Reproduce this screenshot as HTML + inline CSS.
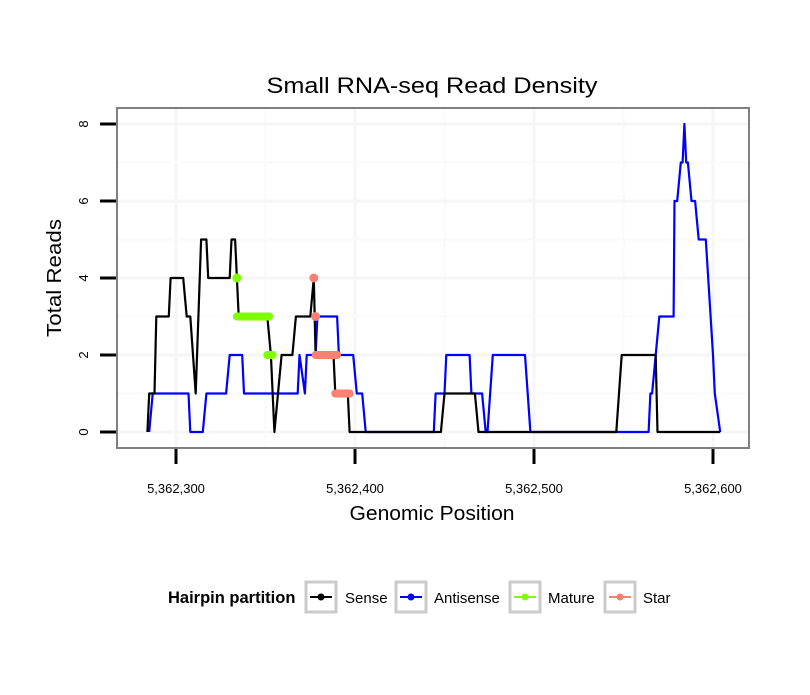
<!DOCTYPE html>
<html><head><meta charset="utf-8"><style>
body{margin:0;background:#fff;}
svg text{font-family:"Liberation Sans",sans-serif;}
</style></head><body>
<svg id="chart" width="810" height="690" viewBox="0 0 810 690">
<rect x="0" y="0" width="810" height="690" fill="#fff"/>
<text x="432" y="93" font-size="22" text-anchor="middle" textLength="331" lengthAdjust="spacingAndGlyphs">Small RNA-seq Read Density</text>
<g id="grid"></g>
<g id="series"></g>
<rect x="117" y="108" width="632" height="340" fill="none" stroke="#7f7f7f" stroke-width="2"/>
<g id="axes"></g>
<text x="432" y="520" font-size="20" text-anchor="middle" textLength="165" lengthAdjust="spacingAndGlyphs">Genomic Position</text>
<text transform="translate(61,278) rotate(-90)" font-size="20" text-anchor="middle" textLength="118" lengthAdjust="spacingAndGlyphs">Total Reads</text>
<g>
<text x="168" y="603" font-size="16.5" font-weight="bold">Hairpin partition</text>
<g><rect x="306" y="582" width="30" height="30" fill="#fff" stroke="#cbcbcb" stroke-width="3"/><line x1="310" y1="597" x2="332" y2="597" stroke="#000" stroke-width="2"/><circle cx="321" cy="597" r="3.5" fill="#000"/><text x="345" y="603" font-size="15">Sense</text></g>
<g><rect x="396" y="582" width="30" height="30" fill="#fff" stroke="#cbcbcb" stroke-width="3"/><line x1="400" y1="597" x2="422" y2="597" stroke="#0000ff" stroke-width="2"/><circle cx="411" cy="597" r="3.5" fill="#0000ff"/><text x="434" y="603" font-size="15">Antisense</text></g>
<g><rect x="510" y="582" width="30" height="30" fill="#fff" stroke="#cbcbcb" stroke-width="3"/><line x1="514" y1="597" x2="536" y2="597" stroke="#7fff00" stroke-width="2"/><circle cx="525" cy="597" r="3.5" fill="#7fff00"/><text x="548" y="603" font-size="15">Mature</text></g>
<g><rect x="605" y="582" width="30" height="30" fill="#fff" stroke="#cbcbcb" stroke-width="3"/><line x1="609" y1="597" x2="631" y2="597" stroke="#fa8072" stroke-width="2"/><circle cx="620" cy="597" r="3.5" fill="#fa8072"/><text x="643" y="603" font-size="15">Star</text></g>
</g>
</svg>
<script>
const BASE = 5362300;
const xTicks = [5362300, 5362400, 5362500, 5362600];
const xTickLabels = ["5,362,300", "5,362,400", "5,362,500", "5,362,600"];
const yTicks = [0, 2, 4, 6, 8];
const senseX = [-16,-15,-12,-11,-4,-3,4,6,8,11,14,17,18,30,31,33,34,35,51,53,55,59,65,67,75,77,77.5,78,88,89,96,97,148,150,167,169,246,249,268,269,304];
const senseY = [0,1,1,3,3,4,4,3,3,1,5,5,4,4,5,5,4,3,3,2,0,2,2,3,3,4,3,2,2,1,1,0,0,1,1,0,0,2,2,0,0];
const antiX = [-15,-13,7,8,15,17,28,30,37,38,68,69,72,73,78,79,90,91,99,101,104,106,144,145,150,151,164,165,171,173,174,177,195,198,264,265,266,270,278,278.5,280,282,283,284,285,286,288,290,292,296,300,301,304];
const antiY = [0,1,1,0,0,1,1,2,2,1,1,2,1,2,2,3,3,2,2,1,1,0,0,1,1,2,2,1,1,0,0,2,2,0,0,1,1,3,3,6,6,7,7,8,7,7,6,6,5,5,2,1,0];
const matureDotsX = [34]; const matureDotsY = [4];
const matureSegX1 = [34, 51]; const matureSegX2 = [52, 54]; const matureSegY = [3, 2];
const starDotsX = [77, 78]; const starDotsY = [4, 3];
const starSegX1 = [78, 89]; const starSegX2 = [90, 97]; const starSegY = [2, 1];

const NS = "http://www.w3.org/2000/svg";
function xs(v){ return 176 + (v - BASE) * 1.79; }
function xo(o){ return xs(BASE + o); }
function ys(v){ return 432 - v * 38.5; }
function mk(tag, attrs, parent){ const e=document.createElementNS(NS,tag); for(const k in attrs) e.setAttribute(k, attrs[k]); parent.appendChild(e); return e; }

const grid = document.getElementById('grid');
const series = document.getElementById('series');
const axes = document.getElementById('axes');
for (let i=0;i<xTicks.length;i++){
  const x = xs(xTicks[i]);
  const g = mk('line',{x1:x,x2:x,y1:109,y2:447,stroke:'#f6f6f6','stroke-width':3},grid);
  
  
  const mx = xs(xTicks[i]+50);
  if (mx < 748){ const m = mk('line',{x1:mx,x2:mx,y1:109,y2:447,stroke:'#fafafa','stroke-width':2},grid);
  
   }
  const t = mk('line',{x1:x,x2:x,y1:449,y2:464,stroke:'#000','stroke-width':3},axes);
  
  
  const l = mk('text',{x:x,y:493,'font-size':13,'text-anchor':'middle'},axes);
  l.textContent = xTickLabels[i];
  
  
}
for (let i=0;i<yTicks.length;i++){
  const y = ys(yTicks[i]);
  const g = mk('line',{x1:118,x2:748,y1:y,y2:y,stroke:'#f6f6f6','stroke-width':3},grid);
  
  
  if (i < yTicks.length-1){ const my = ys(yTicks[i]+1);
  const m = mk('line',{x1:118,x2:748,y1:my,y2:my,stroke:'#fafafa','stroke-width':2},grid);
  
   }
  const t = mk('line',{x1:100,x2:116,y1:y,y2:y,stroke:'#000','stroke-width':3},axes);
  
  
  const l = mk('text',{transform:`translate(88,${y}) rotate(-90)`,'font-size':13,'text-anchor':'middle'},axes);
  l.textContent = String(yTicks[i]);
  
  
}
function line(X,Y,color,name){
  const pts = X.map((x,i)=>xo(x).toFixed(1)+','+ys(Y[i]).toFixed(1)).join(' ');
  const p = mk('polyline',{points:pts,fill:'none',stroke:color,'stroke-width':2.2,'stroke-linejoin':'round'},series);
  
  
}
line(antiX, antiY, '#0000ff', 'antisense-line');
line(senseX, senseY, '#000000', 'sense-line');
function segs(X1,X2,Y,color,name){
  for(let i=0;i<Y.length;i++){
    const s = mk('line',{x1:xo(X1[i]),x2:xo(X2[i]),y1:ys(Y[i]),y2:ys(Y[i]),stroke:color,'stroke-width':8,'stroke-linecap':'round'},series);
    
    
  }
}
function dots(X,Y,color,name){
  for(let i=0;i<X.length;i++){
    const c = mk('circle',{cx:xo(X[i]),cy:ys(Y[i]),r:4.5,fill:color},series);
    
    
  }
}
segs(matureSegX1, matureSegX2, matureSegY, '#7fff00', 'mature-segment');
dots(matureDotsX, matureDotsY, '#7fff00', 'mature-point');
segs(starSegX1, starSegX2, starSegY, '#fa8072', 'star-segment');
dots(starDotsX, starDotsY, '#fa8072', 'star-point');
</script>
</body></html>
